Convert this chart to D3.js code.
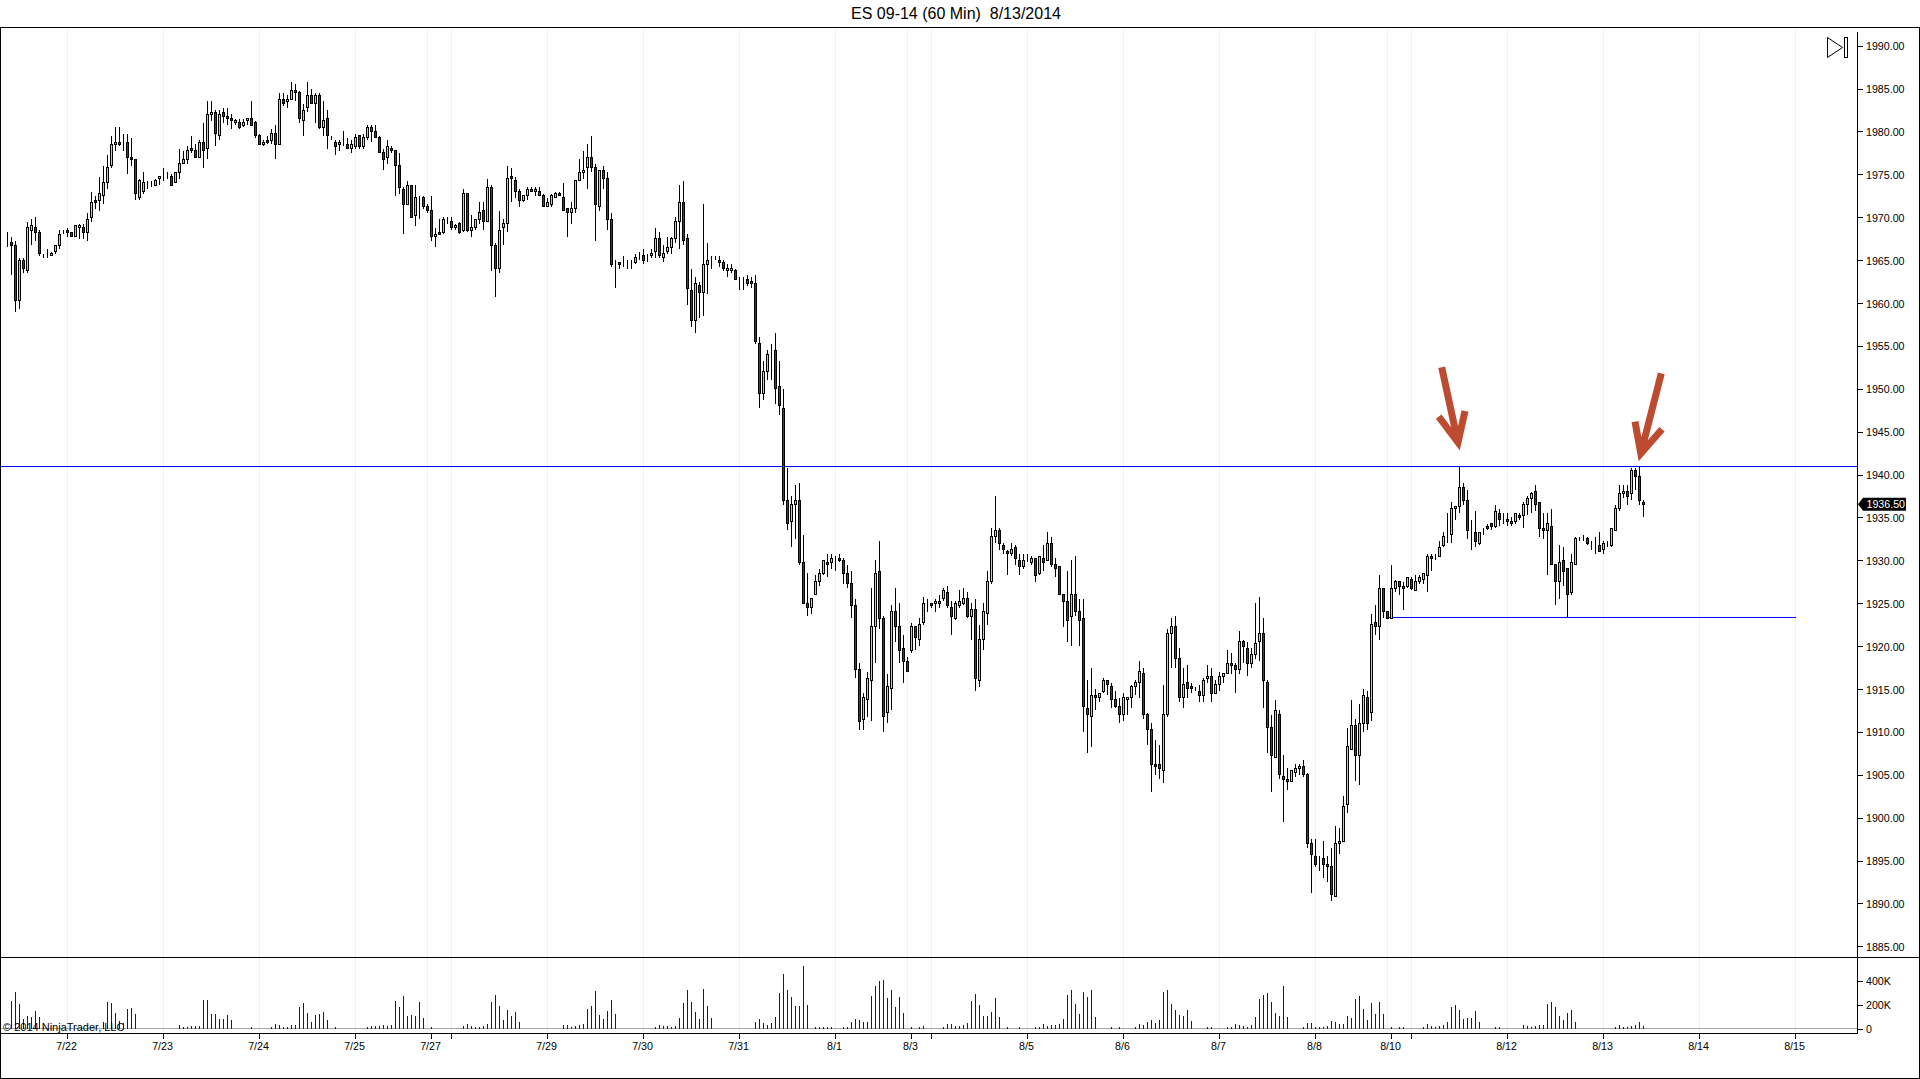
<!DOCTYPE html>
<html><head><meta charset="utf-8">
<script src="https://cdn.jsdelivr.net/npm/d3@7"></script>
<style>
html,body{margin:0;padding:0;background:#fff;overflow:hidden}
svg{display:block}
text{font-family:"Liberation Sans",Arial,sans-serif;fill:#000}
</style></head><body>
<div id="chart"></div>
<script>
const titleText = "ES 09-14 (60 Min)  8/13/2014";
const copyrightText = "© 2014 NinjaTrader, LLC";
const priceTicks = [1990,1985,1980,1975,1970,1965,1960,1955,1950,1945,1940,1935,1930,1925,1920,1915,1910,1905,1900,1895,1890,1885];
const volumeTicks = [400000,200000,0];
const dateLabels = ["7/22","7/23","7/24","7/25","7/27","","7/29","7/30","7/31","8/1","8/3","","8/5","8/6","8/7","8/8","8/10","","8/12","8/13","8/14","8/15"];
const dateBars = [15,39,63,87,106,111,135,159,183,207,226,231,255,279,303,327,346,351,375,399,423,447];
const gridBars = [15,39,63,87,105,111,135,159,183,207,225,231,255,279,303,327,345,351,375,399,423,447];
const resistancePrice = 1940.95;
const supportPrice = 1923.35;
const supportFromBar = 345, supportToBar = 447;
const lastPrice = 1936.5;

const opens = [
1967.25,1967,1966.75,1960.25,1965,1963.75,1968.5,1968.75,1968.25,1965.75,
1965.75,1965.5,1966,1966.75,1968.25,1968.5,1968.25,1967.75,1968.75,1968.75,
1968.25,1970,1972,1972,1972.5,1974,1976,1978.5,1978.75,1978.5,
1978.75,1977,1976.75,1972.25,1973,1973.75,1974,1973.75,1974.5,1974.75,
1974.75,1974.75,1974,1975.25,1976.25,1976.75,1978,1977.75,1977,1978.75,
1978,1982,1982.25,1979.5,1982.25,1981.75,1981.5,1981,1981,1980.75,
1981.25,1981.5,1981,1979.5,1978.5,1979,1979,1979.75,1978.5,1983.75,
1983.5,1983.75,1984.75,1984.5,1981.25,1982.75,1984.25,1983.25,1984.25,1980.5,
1981.5,1979.25,1978.75,1978.5,1978.75,1978.5,1978,1978.25,1979.5,1978.25,
1979.25,1980.5,1980,1979.25,1977.5,1977,1978,1977.75,1976,1973.25,
1971.5,1973.75,1970.25,1972.25,1972.25,1971.25,1970.75,1967.75,1968.25,1968.25,
1969.5,1969.5,1968.75,1969.25,1968.5,1972.75,1968.5,1968.75,1969.75,1970.75,
1969.5,1973.5,1966.75,1964,1968.75,1969.25,1974.75,1974.25,1973,1972,
1972.5,1973.25,1973,1973,1972.5,1971.25,1971.5,1972.25,1972.75,1972.25,
1971,1970.5,1971,1974.25,1975.25,1975.75,1977,1975.75,1971.25,1975.5,
1974.5,1969.75,1964.75,1964.75,1964.25,1964.5,1964.75,1964.75,1965.25,1965.5,
1965.25,1965.5,1966,1967.5,1965.25,1966,1966.5,1967.5,1969.5,1971.75,
1967.5,1961.5,1958,1962,1961.25,1964.5,1965.25,1965.25,1965,1964.75,
1963.75,1963.75,1963.75,1962.75,1962.5,1962.75,1962.5,1962.25,1955.25,1949.5,
1952,1954.25,1954.5,1950.25,1947.75,1937,1934.5,1936.5,1937,1929.75,
1925,1924.5,1926,1927.5,1928.5,1929.75,1929.75,1930.25,1930.25,1930,
1928.5,1927.25,1924.75,1917.25,1911.5,1913.75,1916,1922.25,1928.75,1923.25,
1912.25,1915,1924,1922.25,1919.75,1918.25,1919.5,1922.25,1920.75,1922.75,
1924.75,1925,1925,1925,1925.5,1926.25,1924.5,1923.25,1924.75,1925,
1925.5,1923.5,1924.25,1916,1920.75,1923.75,1927.5,1932.75,1933.5,1931.75,
1931,1930.75,1931.5,1930,1929.25,1930,1929.75,1930.25,1928.5,1930.25,
1930,1932,1929.5,1929.25,1926,1925.25,1923.5,1926,1924,1923.25,
1912.75,1911.75,1914.25,1914,1914.75,1916,1915.25,1913.75,1913,1912,
1913.75,1914,1915.25,1915.75,1916.75,1912,1910.25,1906.25,1906.25,1905.5,
1912,1921.5,1922.25,1918.5,1914,1915.75,1915.25,1915,1914.75,1914.25,
1916.25,1916.5,1914.5,1915.5,1916.5,1916.75,1918,1917.75,1917.25,1920.5,
1919.75,1918,1919,1920.5,1921.5,1915.75,1910.5,1907,1912,1904.75,
1904.5,1904.25,1905.25,1905.75,1906,1905,1897,1895.5,1895.5,1895.25,
1894.5,1894.25,1890.75,1897,1897.25,1901.5,1908,1910.75,1907.25,1911,
1914,1912.25,1922.75,1922.25,1926.75,1924,1923.25,1926.75,1927.5,1927,
1927,1927.75,1926.5,1927.5,1927.75,1928.25,1930.5,1930.5,1930.5,1931.75,
1933,1933,1936,1936.25,1938.5,1937,1933.25,1933.25,1932,1933.5,
1934,1934.25,1934,1935.5,1934.75,1934.75,1934.5,1934.5,1935.25,1935.25,
1936.5,1937.25,1938,1936.75,1933.75,1933.5,1934,1929.5,1927.5,1930,
1929,1926.25,1929.5,1932.5,1932.25,1932.5,1931.75,1932,1931.75,1931.25,
1932,1931.75,1933.5,1936,1937.75,1938,1937.75,1940.5,1939.75,1936.75];

const highs = [
1968.25,1967.75,1967.25,1965.25,1965.25,1969.5,1969.75,1970,1968.5,1965.75,
1966.25,1966,1966.75,1968.5,1968.5,1968.75,1968.25,1969,1969.25,1969.25,
1970.5,1973,1972.5,1974.75,1976,1977.25,1979.5,1980.5,1980.5,1979.75,
1979.75,1979.25,1976.75,1974.5,1975.25,1974.25,1974.25,1974.5,1974.75,1975.75,
1975.25,1975,1975.25,1978,1977.75,1978.25,1979.5,1978.5,1979,1981,
1983.5,1983.5,1982.5,1982.5,1982.75,1982.75,1982,1981.5,1981.5,1981.5,
1981.5,1983.5,1981.25,1979.75,1979,1979.5,1980.25,1980.75,1984.5,1984.5,
1984.25,1985.75,1985.5,1984.75,1983.25,1985.75,1985,1984.5,1984.5,1983.5,
1982.5,1979.5,1979,1979,1980,1979.25,1979,1979.75,1979.5,1979.75,
1980.75,1980.75,1980.75,1979.5,1978,1979,1978.25,1977.75,1977.5,1973.5,
1974.25,1973.75,1973.75,1972.5,1972.5,1971.5,1972.5,1968.75,1969.75,1970,
1970,1970,1969.25,1969.5,1973.25,1972.75,1970.25,1969.75,1971.75,1971.75,
1974.5,1973.75,1967,1970.75,1969.75,1976,1975.75,1974.75,1973.25,1972.5,
1973.5,1973.5,1973.5,1973.5,1972.75,1972.25,1972.75,1973,1973,1974,
1971,1971.75,1974.25,1976.75,1977.75,1978.5,1979.5,1976.25,1975.5,1976,
1975.25,1970.5,1965,1964.75,1965.5,1965,1965,1965.75,1966,1966.25,
1965.75,1966.25,1968.75,1968.25,1966.75,1967.75,1967.75,1970,1973.75,1974.25,
1968,1964,1963,1962.5,1971.5,1967,1965.5,1965.5,1965.5,1965,
1964.5,1964.5,1964,1963,1963,1963.25,1963,1963.25,1956,1953.25,
1954.5,1955.25,1956.5,1953.25,1950,1940.75,1937.5,1938.75,1939,1933,
1928.5,1925.5,1928.25,1929,1930,1930.75,1930.75,1930.5,1930.75,1930.25,
1929.5,1928.75,1925.5,1918,1914.5,1917,1926.75,1930,1932.25,1923.5,
1916.75,1924.75,1926.75,1925,1921.25,1918.75,1922.75,1922.25,1923.25,1925.75,
1925.5,1925,1925.5,1926,1926.75,1927,1925.25,1925.25,1926.5,1926.75,
1926.25,1925,1925.5,1922.5,1925,1928.75,1933.75,1937.5,1933.75,1932,
1931.25,1932,1931.75,1930.75,1930.75,1930.75,1930.5,1930.25,1930.5,1931.75,
1933.25,1932.75,1930.25,1929.25,1926,1928.75,1930,1930.5,1925.5,1925.5,
1916,1917.5,1915,1914.5,1916.25,1916,1915.75,1914.75,1914,1914.5,
1914,1915.5,1916,1918.25,1917.5,1912.25,1911,1909,1908.5,1915.5,
1922,1923.25,1923.5,1919.75,1917.5,1917.75,1915.75,1915.25,1915.5,1916.25,
1917.75,1917.5,1916,1917,1916.75,1919.5,1919.25,1918,1921.75,1920.75,
1920.5,1919.75,1925,1925.75,1923.25,1916,1912,1913.75,1912.5,1907.25,
1905.75,1905.5,1906.25,1906.25,1906.75,1905.25,1897.5,1897.5,1895.5,1897.25,
1895.5,1896.5,1899,1898.75,1902.5,1910.5,1913.75,1911.5,1913.25,1915,
1914.75,1923.75,1924.75,1928.25,1926.75,1924,1929.5,1927.75,1927.5,1927.5,
1928,1928,1928.25,1928.25,1928.5,1930.75,1930.75,1930.75,1932.25,1933.25,
1935.5,1936.75,1936.25,1941,1939,1938.25,1934.75,1935.75,1933.25,1933.75,
1934.25,1934.25,1936.5,1936,1935.5,1935.5,1935,1935.5,1935.5,1936.75,
1937.5,1938,1938.75,1936.75,1935.5,1935.5,1936,1929.5,1931.75,1931.5,
1929,1930.75,1932.75,1932.75,1933,1932.75,1932.25,1932.75,1933.25,1932.25,
1932.25,1933.75,1936.5,1938.75,1938.75,1938.75,1940.75,1940.75,1941,1937];

const lows = [
1966.5,1963.25,1959,1959.25,1963.5,1963.5,1966.75,1967.25,1965.5,1965.25,
1965.25,1965.5,1965.75,1966.25,1968,1967.75,1967.75,1967.75,1967.5,1967.5,
1967.25,1969.5,1971,1970.75,1971.5,1973.25,1975.75,1977.75,1978.25,1977.75,
1975,1976,1972,1972,1972.75,1973.25,1973.5,1973.75,1973.75,1974.25,
1974.5,1973.75,1974,1974.5,1976.25,1976.25,1977.5,1977,1977,1975.75,
1976.75,1981.25,1978.25,1979,1981,1980.75,1980.25,1980.75,1980.25,1980.5,
1980.75,1980.75,1979.25,1978.5,1978.25,1978.5,1978.5,1976.75,1978.5,1983,
1982.75,1983.75,1983.5,1981,1979.5,1982.25,1983.25,1981,1980.25,1979.5,
1978,1979,1977.25,1977.75,1978.25,1978,1977.5,1978,1978,1978,
1979,1978.75,1979.25,1977.5,1975.5,1976.25,1977.5,1972.5,1972.75,1968,
1971.5,1970,1969,1969.75,1971,1970.5,1967.25,1966.5,1968,1968,
1969.25,1968.5,1968.5,1968,1968.25,1968.25,1967.75,1968.5,1969.25,1968.5,
1969.5,1963.75,1960.75,1963.5,1966.75,1968.25,1971.75,1972.25,1971.25,1971.75,
1972,1973,1972.5,1972.5,1971.25,1971.25,1971.25,1972.25,1972.5,1970.75,
1967.75,1969.25,1970.5,1974.25,1974.5,1973.25,1975.25,1967.25,1970.75,1973.25,
1968.5,1964.25,1961.75,1964,1964.25,1964,1964,1964.5,1965,1964.5,
1964.75,1965.25,1965.25,1965.25,1964.75,1965.75,1965.75,1967,1966.25,1966.75,
1959.75,1957.25,1956.5,1958.25,1958.5,1961,1964,1965,1964.25,1963.75,
1963,1963.5,1962.75,1961.5,1961.5,1962,1961.75,1955.25,1947.75,1948.75,
1951,1951,1948.25,1947,1936.5,1933.5,1931.5,1932.5,1929.5,1925,
1923.5,1923.75,1926,1927,1928.25,1928,1929,1928.75,1929.75,1927.25,
1926.75,1923.25,1916.25,1910.25,1910.25,1911.75,1911.25,1918,1922,1910,
1911,1912.5,1920.5,1918,1915.75,1917,1919.25,1919.5,1920,1922.5,
1924,1924.5,1924,1924.5,1925.25,1924.5,1921.25,1923,1924.5,1924.75,
1923.25,1920.75,1914.75,1915.25,1919.5,1922.5,1927.25,1932,1931.25,1930.75,
1928.25,1930.5,1929.5,1928.25,1929,1929.75,1929.5,1927.5,1928.25,1928.75,
1930,1929.25,1928,1926,1922.25,1920.5,1920,1923.5,1920,1910,
1907.5,1908.25,1912.5,1913.5,1914.5,1914.25,1912.75,1912.75,1911,1911.25,
1912,1912.75,1914.25,1914,1911.5,1908.5,1903,1905,1904.5,1904,
1911.75,1917.5,1917.5,1913.5,1912.75,1914,1914.5,1914.75,1913.5,1913.5,
1915.75,1913.5,1914.5,1914.75,1915.75,1916.75,1916.75,1914.5,1916.75,1918,
1916.5,1917.5,1918.5,1918.25,1912.75,1907.5,1903,1907,1904.5,1899.5,
1903.25,1904.25,1904.75,1905,1904.75,1896.5,1891.25,1894.25,1893.75,1893,
1892.5,1890.25,1890.75,1895.75,1897.25,1900.5,1908,1904.25,1903.75,1910,
1910.25,1911.25,1921.25,1920.75,1923.25,1923.25,1923.25,1926.25,1926,1924.25,
1926.75,1926.5,1926.5,1927.25,1927.25,1926.25,1928.75,1930,1930.5,1931.5,
1932,1932,1934.75,1935.5,1936.5,1932.5,1931.25,1931.5,1931.75,1933,
1933.5,1933.5,1933.75,1934,1934.25,1934,1934,1934.25,1934.75,1933.75,
1935.25,1935.5,1935.75,1932.75,1932.5,1928.25,1929.5,1924.75,1925.5,1927,
1923.25,1926,1929.5,1932.25,1932.25,1931.75,1931.25,1930.75,1931,1930.75,
1931.5,1931.5,1933.5,1935.75,1937.25,1936.5,1937,1938.25,1936.5,1935];

const closes = [
1967.25,1966.75,1960.25,1965,1964,1968.75,1969,1968.25,1965.75,1965.75,
1965.75,1965.75,1966.75,1968,1968.25,1968.25,1967.75,1969,1969,1968.25,
1969.75,1971.75,1971.75,1972.75,1974,1975.75,1978.5,1978.75,1978.5,1978.5,
1977,1976.75,1972.75,1974.25,1974,1973.75,1974,1974.25,1974.75,1974.75,
1974.75,1973.75,1975.25,1976.25,1976.75,1977.75,1977.75,1977,1978.75,1977.75,
1982,1982.25,1979.75,1982,1981.75,1981.5,1981.25,1981.25,1980.5,1981,
1981.5,1980.75,1979.5,1978.5,1978.75,1978.75,1979.75,1978.5,1983.75,1983.25,
1983.75,1984.75,1984.5,1981.5,1982.5,1984.25,1983.25,1984.25,1980.5,1981.25,
1979.5,1979.25,1978.25,1978.75,1978.75,1978,1978.5,1979.25,1978.25,1979.25,
1980.5,1980,1979.25,1977.5,1976.75,1978.25,1977.75,1976,1973.5,1971.5,
1973.75,1970,1972.25,1972.25,1971.25,1970.75,1967.75,1968,1968,1969.75,
1969.5,1968.75,1969,1968.25,1972.75,1968.5,1968.75,1969.75,1970.5,1969.5,
1973.5,1966.75,1964,1968.5,1969.25,1974.5,1974.5,1973,1972,1972.5,
1973.25,1973,1973.25,1972.5,1971.25,1971.75,1972.5,1972.75,1972.5,1970.75,
1970.5,1971,1974.25,1975.25,1975.5,1977,1975.75,1971.5,1975.5,1974.5,
1969.75,1964.5,1964.75,1964.5,1964.25,1964.5,1964.75,1965.25,1965.25,1965,
1965.25,1965.75,1967.5,1965.5,1965.75,1966.5,1967.5,1969.5,1971.75,1967.25,
1961.75,1958,1962.25,1961.25,1964.5,1965,1965.25,1965.25,1964.75,1964,
1964,1964,1962.75,1962.75,1962.5,1962.25,1962.25,1955.5,1949.5,1952,
1954,1954.25,1950,1948,1937,1934.25,1936.5,1937,1929.75,1925,
1924.5,1925.5,1927.5,1928.5,1930,1929.5,1930.25,1930.25,1930,1928.5,
1927.25,1924.75,1917.25,1911.25,1914,1916.25,1922.25,1928.5,1923.25,1911.75,
1915.25,1924,1922.25,1919.5,1918.25,1917,1922.25,1921,1922.5,1925,
1924.75,1924.75,1925.25,1925.25,1926.5,1924.75,1923.5,1925,1925.25,1925.5,
1923.5,1924.25,1916.25,1920.75,1924,1927.5,1932.75,1933.5,1932,1931.25,
1930.75,1931.25,1930.25,1929.25,1930,1930,1930.25,1928.25,1930.5,1929.75,
1932,1929.5,1929,1926,1925.25,1923,1926,1924,1923,1913,
1912,1914.25,1914,1914.5,1916,1915.5,1913.75,1913,1912,1914,
1914,1915.25,1915.75,1917,1912,1910.25,1906.25,1906,1905.75,1912,
1921.5,1922.25,1918.5,1914,1915.5,1915,1915,1915,1914.25,1916,
1916.5,1914.5,1915.5,1916.5,1916.75,1918,1917.75,1917.25,1920.5,1920,
1918,1919,1920.25,1921.5,1916,1910.5,1907.25,1912.5,1905,1904.5,
1904.25,1905.5,1905.75,1906,1905,1897,1895.75,1894.5,1895.5,1894.5,
1894.25,1891,1897,1897.25,1901.25,1908.25,1910.75,1907.25,1911,1914.25,
1911,1922.5,1922.25,1926.75,1924,1923.25,1926.75,1927.5,1927,1926.75,
1928,1926.75,1927.5,1928,1928.5,1930.5,1930.25,1930.5,1931.5,1932.75,
1933,1936,1936.25,1938.5,1937,1933.5,1933.25,1932.25,1933.25,1933.5,
1933.75,1934,1935.75,1934.75,1934.75,1934.5,1934.25,1935.5,1935,1936.5,
1937.25,1937.75,1936.5,1933.75,1933.5,1934.25,1929.5,1927.5,1929.75,1928.75,
1926,1929.75,1932.5,1932.5,1932.25,1932,1931.75,1932,1931,1932,
1932,1933.75,1936,1937.75,1938,1937.5,1940.5,1939.75,1937,1936.5];

// volume per bar, in thousands of contracts
const volumes = [
0,231,306,206,86,106,97,147,97,14,
0,0,0,0,0,0,0,0,0,0,
0,0,0,0,56,222,214,131,64,47,
164,172,122,0,0,0,0,0,0,0,
0,0,0,31,14,14,22,22,22,239,
239,122,122,81,81,114,72,0,0,0,
0,14,0,0,0,0,14,39,31,14,
14,31,31,181,214,131,56,114,122,139,
72,0,14,0,0,0,0,0,0,0,
14,22,22,22,31,22,31,231,181,272,
106,114,106,222,89,0,14,0,0,0,
0,0,0,0,22,39,22,14,14,22,
39,222,281,189,72,156,106,139,56,0,
0,0,0,0,0,0,0,0,0,31,
31,14,22,31,39,164,189,314,114,81,
147,239,122,0,0,0,0,0,0,0,
0,0,14,31,22,22,14,22,89,214,
322,222,139,81,331,189,89,0,0,0,
0,0,0,0,0,0,0,56,81,47,
31,47,97,297,456,322,264,189,189,522,
197,0,14,14,14,14,14,0,0,14,
14,56,81,72,56,56,272,356,397,406,
256,322,181,264,131,0,14,0,14,22,
0,0,0,0,14,39,39,22,22,31,
47,231,289,197,106,106,139,256,97,0,
14,0,0,14,0,0,0,14,14,39,
22,31,31,39,81,281,322,206,122,306,
264,322,97,0,0,0,14,0,14,0,
0,0,14,39,31,56,72,47,72,306,
322,206,156,114,106,156,64,0,0,0,
14,14,0,0,0,14,14,39,31,22,
14,31,97,247,281,297,222,131,111,356,
97,0,0,0,14,47,47,14,14,14,
22,64,56,39,39,106,89,247,272,164,
72,214,122,222,122,0,14,0,14,14,
0,0,0,0,14,39,22,14,22,31,
56,181,197,156,81,89,89,147,56,0,
0,0,14,14,0,0,0,0,0,31,
22,14,22,31,31,206,222,181,106,72,
131,156,56,0,0,0,0,0,0,0,
0,0,14,31,14,14,22,31,56,22];

const W = 1920, H = 1079;
const bars = d3.range(opens.length);
const x = d3.scaleLinear().domain([0, 409]).range([7.5, 1643.5]);
const y = d3.scaleLinear().domain([1885, 1990]).range([946.3, 45.7]);
const v = d3.scaleLinear().domain([0, 400000]).range([1029, 981]);

const svg = d3.select("#chart").append("svg").attr("width", W).attr("height", H);
svg.append("rect").attr("width", W).attr("height", H).attr("fill", "#fff");

// date grid
svg.append("g").selectAll("line").data(gridBars).join("line")
  .attr("x1", d => x(d)).attr("x2", d => x(d)).attr("y1", 28).attr("y2", 1033)
  .attr("stroke", "#F0F0F2").attr("shape-rendering", "crispEdges");

// volume
svg.append("line").attr("x1", 0).attr("x2", 1857).attr("y1", 1028.5).attr("y2", 1028.5)
  .attr("stroke", "#A6A6A6").attr("shape-rendering", "crispEdges");
svg.append("g").selectAll("rect").data(bars.filter(i => volumes[i] > 0)).join("rect")
  .attr("x", i => x(i) - 0.5).attr("width", 1)
  .attr("y", i => v(volumes[i] * 1000)).attr("height", i => v(0) - v(volumes[i] * 1000))
  .attr("fill", "#0000FF").attr("shape-rendering", "crispEdges");

// levels
svg.append("line").attr("x1", 1).attr("x2", 1857).attr("y1", y(resistancePrice)).attr("y2", y(resistancePrice))
  .attr("stroke", "#0000FF").attr("shape-rendering", "crispEdges");
svg.append("line").attr("x1", x(supportFromBar)).attr("x2", x(supportToBar)).attr("y1", y(supportPrice)).attr("y2", y(supportPrice))
  .attr("stroke", "#0000FF").attr("shape-rendering", "crispEdges");

// candles
const candle = svg.append("g").attr("shape-rendering", "crispEdges");
candle.selectAll("line").data(bars).join("line")
  .attr("x1", i => x(i)).attr("x2", i => x(i))
  .attr("y1", i => y(highs[i])).attr("y2", i => y(lows[i]))
  .attr("stroke", "#000");
candle.selectAll("rect").data(bars).join("rect")
  .attr("x", i => x(i) - 1).attr("width", 2)
  .attr("y", i => y(Math.max(opens[i], closes[i])))
  .attr("height", i => Math.abs(y(opens[i]) - y(closes[i])))
  .attr("fill", i => closes[i] > opens[i] ? "#90EE90" : closes[i] < opens[i] ? "#D80000" : "#000")
  .attr("stroke", "#000");

// arrows (hand-drawn annotations)
const arrows = [
  {tail:[1441.7,367.3], tip:[1458,442.4], left:[1438.7,416.7], right:[1465,411]},
  {tail:[1661.3,373.3], tip:[1640.8,453.5], left:[1635,421.7], right:[1662,429.3]}
];
const ag = svg.append("g").attr("fill", "none").attr("stroke", "#BC4B30").attr("stroke-width", 7)
  .attr("stroke-miterlimit", 10);
ag.selectAll("path").data(arrows).join("path")
  .attr("d", a => `M${a.tail}L${a.tip}M${a.left}L${a.tip}L${a.right}`);

// frame
const frame = svg.append("g").attr("stroke", "#000").attr("shape-rendering", "crispEdges");
[[0,27.5,1920,27.5],[0,957.5,1920,957.5],[0,1033.5,1857.5,1033.5],[0,1078.5,1920,1078.5],
 [0.5,27,0.5,1079],[1919.5,27,1919.5,1079],[1857.5,32,1857.5,1034]].forEach(s => {
  frame.append("line").attr("x1", s[0]).attr("y1", s[1]).attr("x2", s[2]).attr("y2", s[3]);
});

// axes
const fontSize = 10.67;
const yAxis = d3.axisRight(y).tickValues(priceTicks).tickFormat(d3.format(".2f")).tickSize(6).tickPadding(3);
const gy = svg.append("g").attr("transform", "translate(1857,0)").call(yAxis);
const vAxis = d3.axisRight(v).tickValues(volumeTicks).tickFormat(d => d === 0 ? "0" : (d / 1000) + "K").tickSize(6).tickPadding(3);
const gv = svg.append("g").attr("transform", "translate(1857,0)").call(vAxis);
const xAxis = d3.axisBottom(x).tickValues(dateBars).tickFormat((d, i) => dateLabels[i]).tickSize(6).tickPadding(3);
const gx = svg.append("g").attr("transform", "translate(-0.5,1033)").call(xAxis);
[gy, gv, gx].forEach(g => {
  g.select(".domain").remove();
  g.selectAll("line").attr("stroke", "#000").attr("shape-rendering", "crispEdges");
  g.selectAll("text").attr("font-size", fontSize).attr("font-family", null).style("fill", "#000");
});
gy.selectAll("text").attr("transform", "translate(0,0.6)");
gx.selectAll("text").attr("dx", -1);

// last price tag
const tagY = y(lastPrice) - 0.4;
svg.append("path").attr("d", `M1858,${tagY}L1863,${tagY - 6.5}L1906,${tagY - 6.5}L1906,${tagY + 6.5}L1863,${tagY + 6.5}Z`).attr("fill", "#000");
svg.append("text").attr("x", 1866.5).attr("y", tagY + 4).attr("font-size", fontSize).style("fill", "#fff").text(d3.format(".2f")(lastPrice));

// title, copyright, end-of-chart icon
svg.append("text").attr("x", 956).attr("y", 18.5).attr("text-anchor", "middle").attr("font-size", 16)
  .attr("xml:space", "preserve").style("white-space", "pre").text(titleText);
svg.append("text").attr("x", 3).attr("y", 1031).attr("font-size", 11).text(copyrightText);
svg.append("path").attr("d", "M1827.5,37.5L1842.5,47.5L1827.5,57.5Z").attr("fill", "none").attr("stroke", "#000");
svg.append("rect").attr("x", 1844.5).attr("y", 37.5).attr("width", 3).attr("height", 20).attr("fill", "none").attr("stroke", "#000").attr("shape-rendering", "crispEdges");
</script>
</body></html>
